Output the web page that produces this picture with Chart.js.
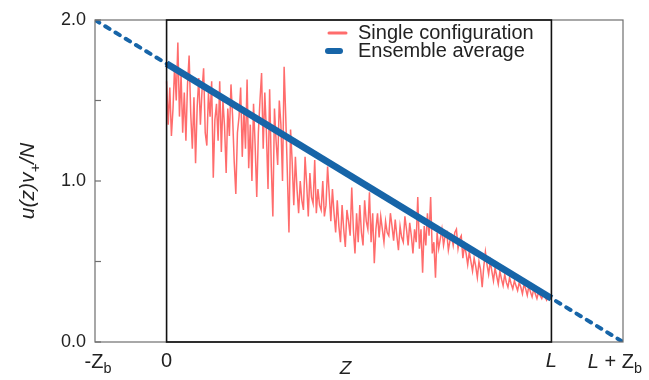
<!DOCTYPE html>
<html>
<head>
<meta charset="utf-8">
<script src="https://cdn.jsdelivr.net/npm/chart.js@4"></script>
<style>
  body { margin: 0; background: #fff; }
  canvas { display: block; }
</style>
</head>
<body>
<canvas id="myChart" width="649" height="380"></canvas>
<script>
// positions along z, in units of L
const L = 1
const Zb = 0.186

const singleValues = [
  1.62, 1.35, 1.58, 1.28, 1.45, 1.72, 1.50, 1.86, 1.40, 1.66, 1.30, 1.55, 1.25, 1.60, 1.78, 1.42, 1.20, 1.52, 1.11, 1.46,
  1.64, 1.35, 1.56, 1.70, 1.30, 1.22, 1.55, 1.40, 1.62, 1.02, 1.38, 1.48, 1.25, 1.62, 1.18, 1.50, 1.34, 1.05, 1.45, 1.28,
  1.60, 1.40, 1.12, 0.92, 1.30, 1.40, 1.58, 1.15, 1.45, 1.20, 1.63, 1.08, 1.35, 1.00, 1.48, 1.22, 0.90, 1.30, 1.50, 1.67,
  1.20, 1.55, 1.30, 0.95, 1.57, 1.10, 0.78, 1.45, 1.25, 1.10, 1.50, 1.35, 1.00, 1.71, 1.40, 1.05, 0.68, 1.32, 1.12, 0.85,
  1.15, 0.95, 0.80, 1.00, 0.88, 0.82, 1.15, 0.98, 0.78, 1.05, 0.90, 0.86, 1.13, 0.80, 0.95, 0.85, 0.82, 1.00, 0.78, 0.85,
  1.09, 0.92, 0.75, 0.95, 0.80, 0.68, 0.88, 0.72, 0.62, 0.85, 0.70, 0.59, 0.82, 0.75, 0.66, 0.96, 0.70, 0.55, 0.80, 0.62,
  0.85, 0.68, 0.60, 0.88, 0.75, 0.70, 0.93, 0.62, 0.80, 0.49, 0.70, 0.80, 0.65, 0.78, 0.70, 0.62, 0.75, 0.68, 0.66, 0.80,
  0.72, 0.63, 0.76, 0.66, 0.57, 0.72, 0.65, 0.62, 0.78, 0.70, 0.60, 0.74, 0.66, 0.55, 0.70, 0.62, 0.90, 0.58, 0.70, 0.43,
  0.72, 0.60, 0.80, 0.66, 0.90, 0.55, 0.62, 0.40, 0.68, 0.58, 0.64, 0.70, 0.60, 0.66, 0.68, 0.57, 0.63, 0.66, 0.60, 0.68,
  0.70, 0.58, 0.64, 0.66, 0.52, 0.60, 0.55, 0.48, 0.56, 0.50, 0.44, 0.52, 0.47, 0.40, 0.50, 0.45, 0.34, 0.47, 0.56, 0.48,
  0.42, 0.50, 0.44, 0.38, 0.46, 0.41, 0.36, 0.44, 0.39, 0.35, 0.42, 0.37, 0.34, 0.40, 0.36, 0.33, 0.38, 0.35, 0.32, 0.37,
  0.34, 0.30, 0.36, 0.33, 0.29, 0.35, 0.31, 0.28, 0.33, 0.30, 0.27, 0.31, 0.29, 0.27, 0.30, 0.28, 0.26, 0.29, 0.27, 0.28
]

// ensemble average (0 .. L) and its extrapolation (-Zb .. L + Zb)
const ensembleX = [0, L]
const ensembleY = [1.729, 0.271]
const extrapX = [-Zb, L + Zb]
const extrapY = [2.0, 0.0]

const yTicks = [0, 0.5, 1, 1.5, 2]
const yTickLabels = ['0.0', '', '1.0', '', '2.0']

const redColor = 'rgba(255, 95, 95, 0.92)'
const blueColor = '#1765a8'
const font = '"Liberation Sans", Arial, sans-serif'

let singleData = singleValues.map((v, i) => ({ x: i / (singleValues.length - 1) * L, y: v }))
let ensembleData = ensembleX.map((x, i) => ({ x: x, y: ensembleY[i] }))
let extrapData = extrapX.map((x, i) => ({ x: x, y: extrapY[i] }))

// draws text made of pieces (italic / subscript)
function drawRich(ctx, parts, x, y, size, align) {
  let widths = parts.map(p => {
    ctx.font = (p.it ? 'italic ' : '') + (p.sub ? size * 0.72 : size) + 'px ' + font
    return ctx.measureText(p.t).width
  })
  let total = widths.reduce((a, b) => a + b, 0)
  let cx = align === 'center' ? x - total / 2 : align === 'right' ? x - total : x
  ctx.textAlign = 'left'
  ctx.textBaseline = 'middle'
  parts.forEach((p, i) => {
    ctx.font = (p.it ? 'italic ' : '') + (p.sub ? size * 0.72 : size) + 'px ' + font
    ctx.fillText(p.t, cx, y + (p.sub ? size * 0.35 : 0))
    cx += widths[i]
  })
}

const decorations = {
  id: 'decorations',
  afterDraw(chart) {
    let ctx = chart.ctx
    let xs = chart.scales.x
    let ys = chart.scales.y
    let left = xs.getPixelForValue(-Zb), right = xs.getPixelForValue(L + Zb)
    let top = ys.getPixelForValue(2), bottom = ys.getPixelForValue(0)
    let x0 = xs.getPixelForValue(0), xL = xs.getPixelForValue(L)
    ctx.save()

    // outer frame
    ctx.strokeStyle = '#6e6e6e'
    ctx.lineWidth = 1.2
    ctx.strokeRect(left, top, right - left, bottom - top)
    // inner frame 0 .. L
    ctx.strokeStyle = '#111'
    ctx.lineWidth = 1.6
    ctx.strokeRect(x0, top, xL - x0, bottom - top)

    // y ticks, pointing inward
    ctx.strokeStyle = '#6e6e6e'
    ctx.lineWidth = 1.2
    ctx.fillStyle = '#222'
    yTicks.forEach((v, i) => {
      let py = ys.getPixelForValue(v)
      ctx.beginPath()
      ctx.moveTo(left, py)
      ctx.lineTo(left + 6, py)
      ctx.stroke()
      if (yTickLabels[i]) {
        ctx.font = '18px ' + font
        ctx.textAlign = 'right'
        ctx.textBaseline = 'middle'
        ctx.fillText(yTickLabels[i], left - 9, py)
      }
    })

    // x labels
    let ly = bottom + 20
    drawRich(ctx, [{ t: '-' }, { t: 'Z' }, { t: 'b', sub: true }], left + 3, ly, 20, 'center')
    drawRich(ctx, [{ t: '0' }], x0, ly - 1, 20, 'center')
    drawRich(ctx, [{ t: 'L', it: true }], xL, ly - 1, 20, 'center')
    drawRich(ctx, [{ t: 'L', it: true }, { t: ' + ' }, { t: 'Z' }, { t: 'b', sub: true }], 642, ly, 20, 'right')
    drawRich(ctx, [{ t: 'Z', it: true }], xs.getPixelForValue(0.465), bottom + 27, 19, 'center')

    // y title
    ctx.save()
    ctx.translate(28, (top + bottom) / 2)
    ctx.rotate(-Math.PI / 2)
    drawRich(ctx, [{ t: 'u(z)v', it: true }, { t: '+', it: true, sub: true }, { t: '/N', it: true }], 0, 0, 21, 'center')
    ctx.restore()

    // legend
    ctx.lineCap = 'round'
    ctx.strokeStyle = redColor
    ctx.lineWidth = 3
    ctx.beginPath()
    ctx.moveTo(329, 33)
    ctx.lineTo(346, 33)
    ctx.stroke()
    ctx.strokeStyle = blueColor
    ctx.lineWidth = 6
    ctx.beginPath()
    ctx.moveTo(328, 51)
    ctx.lineTo(340, 51)
    ctx.stroke()
    ctx.fillStyle = '#222'
    drawRich(ctx, [{ t: 'Single configuration' }], 358, 33, 20, 'left')
    drawRich(ctx, [{ t: 'Ensemble average' }], 358, 51, 20, 'left')

    ctx.restore()
  }
}

let ctx = document.querySelector('#myChart').getContext('2d')

let myChart = new Chart(ctx, {
  type: 'line',
  data: {
    datasets: [
      {
        label: 'Extrapolation',
        data: extrapData,
        borderColor: blueColor,
        borderWidth: 4,
        borderDash: [5, 7],
        borderCapStyle: 'round',
        pointRadius: 0,
        order: 0
      },
      {
        label: 'Ensemble average',
        data: ensembleData,
        borderColor: blueColor,
        borderWidth: 7,
        pointRadius: 0,
        order: 1
      },
      {
        label: 'Single configuration',
        data: singleData,
        borderColor: redColor,
        borderWidth: 1.5,
        pointRadius: 0,
        tension: 0,
        order: 2
      }
    ]
  },
  options: {
    responsive: false,
    animation: false,
    layout: { padding: { left: 95, right: 26, top: 20, bottom: 38 } },
    plugins: { legend: { display: false }, tooltip: { enabled: false } },
    scales: {
      x: { type: 'linear', min: -Zb, max: L + Zb, display: false },
      y: { min: 0, max: 2, display: false }
    }
  },
  plugins: [decorations]
})
</script>
</body>
</html>
